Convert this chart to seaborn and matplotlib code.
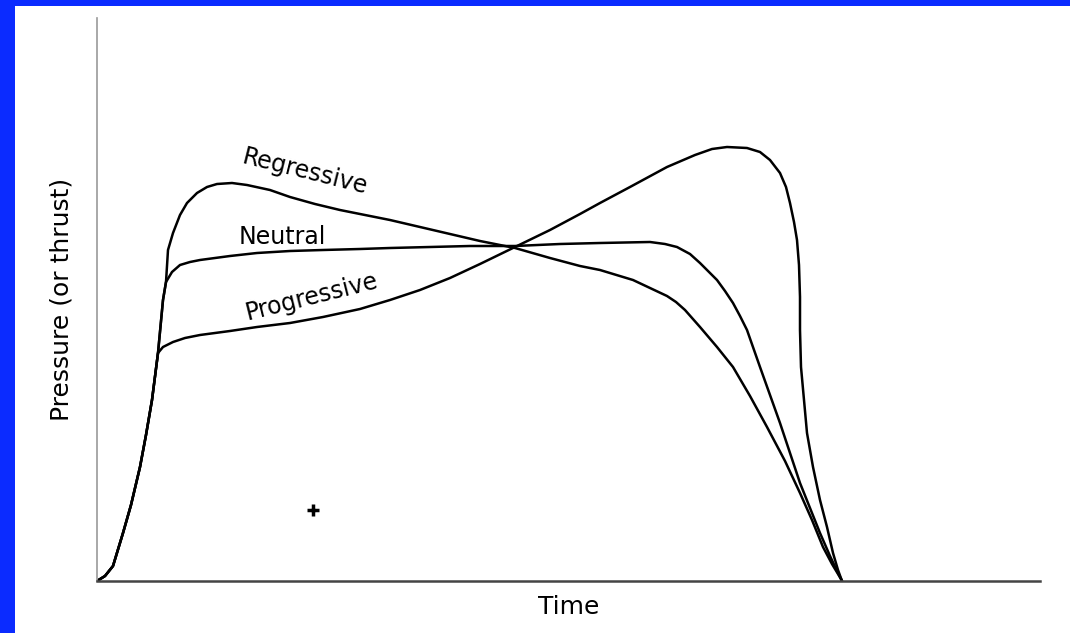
import pandas as pd
import matplotlib.pyplot as plt
import seaborn as sns
from matplotlib.patches import Rectangle

# values (arbitrary units, time from ignition)
rise_time = [0, 8, 16, 26, 34, 43, 49, 55, 61]
rise_press = [0, 5, 15, 48, 76, 114, 146, 181, 228]

upper_rise_time = [66, 69]
upper_rise_press = [281, 299]

regr_time = [71, 76, 83, 90, 100, 110, 120, 135, 150, 173, 193, 218, 243, 268, 293,
             323, 353, 383, 418, 453, 483, 503, 536, 570, 579, 588, 603, 620, 636, 653,
             670, 688, 703, 715, 726, 735, 744, 745]
regr_press = [331, 348, 366, 378, 388, 394, 397, 398, 396, 391, 384, 377, 371, 366, 361,
              354, 347, 340, 333, 323, 315, 311, 301, 285, 279, 271, 254, 234, 214, 185,
              154, 120, 88, 61, 34, 17, 2, 0]

neut_time = [75, 83, 93, 103, 133, 160, 193, 226, 263, 293, 333, 373, 418, 463, 503,
             553, 568, 580, 593, 603, 613, 620, 628, 636, 643, 650, 663, 673, 683,
             693, 703, 713, 723, 733, 741, 745]
neut_press = [309, 316, 319, 321, 325, 328, 330, 331, 332, 333, 334, 335, 335, 337, 338,
              339, 337, 334, 327, 318, 308, 301, 290, 278, 265, 251, 214, 186, 158,
              128, 98, 73, 48, 25, 8, 0]

prog_time = [66, 76, 88, 103, 133, 160, 193, 226, 263, 293, 323, 353, 383, 418, 453,
             483, 503, 533, 570, 598, 615, 630, 650, 663, 673, 683, 689, 693, 697,
             700, 702, 703, 703, 704, 707, 710, 716, 723, 730, 736, 741, 745]
prog_press = [234, 239, 243, 246, 250, 254, 258, 264, 272, 281, 291, 303, 317, 334, 351,
              367, 378, 394, 414, 426, 432, 434, 433, 429, 421, 408, 394, 378, 359,
              341, 316, 284, 251, 214, 181, 148, 114, 81, 54, 28, 11, 0]

curve_names = ["Regressive", "Neutral", "Progressive"]
label_time = [208, 185, 215]
label_press = [409, 344, 284]
label_angle = [-14, 0, 14]

mark_time = [216]
mark_press = [71]

rows = []
for name, t, p in [
    ("Regressive", rise_time + upper_rise_time + regr_time, rise_press + upper_rise_press + regr_press),
    ("Neutral", rise_time + upper_rise_time + neut_time, rise_press + upper_rise_press + neut_press),
    ("Progressive", rise_time + prog_time, rise_press + prog_press),
]:
    for a, b in zip(t, p):
        rows.append({"Curve": name, "Time": a, "Pressure": b})
df = pd.DataFrame(rows)

sns.set_style("white")
plt.rcParams["font.family"] = ["DejaVu Sans"]
plt.rcParams["text.color"] = "black"
plt.rcParams["axes.labelcolor"] = "black"

fig = plt.figure(figsize=(10.7, 6.33), dpi=100, facecolor="#0b2bff")
fig.add_artist(Rectangle((15 / 1070, 0), 1, 1 - 6 / 633, transform=fig.transFigure,
                         facecolor="white", edgecolor="none", zorder=0))
ax = fig.add_axes([97 / 1070, 52 / 633, 943 / 1070, 563 / 633])
ax.set_facecolor("white")

sns.lineplot(data=df, x="Time", y="Pressure", units="Curve", estimator=None,
             sort=False, color="black", lw=1.8, ax=ax)
ax.plot(mark_time, mark_press, marker="+", ms=9, mew=2.5, color="black", ls="none")

for name, tx, py, ang in zip(curve_names, label_time, label_press, label_angle):
    ax.text(tx, py, name, fontsize=17, rotation=ang, ha="center", va="center",
            rotation_mode="anchor", color="black")

ax.set_xlim(0, 943)
ax.set_ylim(0, 563)
ax.set_xticks([])
ax.set_yticks([])
ax.set_xlabel("Time", fontsize=18, labelpad=10, color="black")
ax.set_ylabel("Pressure (or thrust)", fontsize=18, labelpad=17, color="black")
ax.spines["top"].set_visible(False)
ax.spines["right"].set_visible(False)
ax.spines["left"].set_color("#999999")
ax.spines["left"].set_linewidth(1.2)
ax.spines["bottom"].set_color("#444444")
ax.spines["bottom"].set_linewidth(1.8)

fig.savefig("out.png", dpi=100, facecolor=fig.get_facecolor())
